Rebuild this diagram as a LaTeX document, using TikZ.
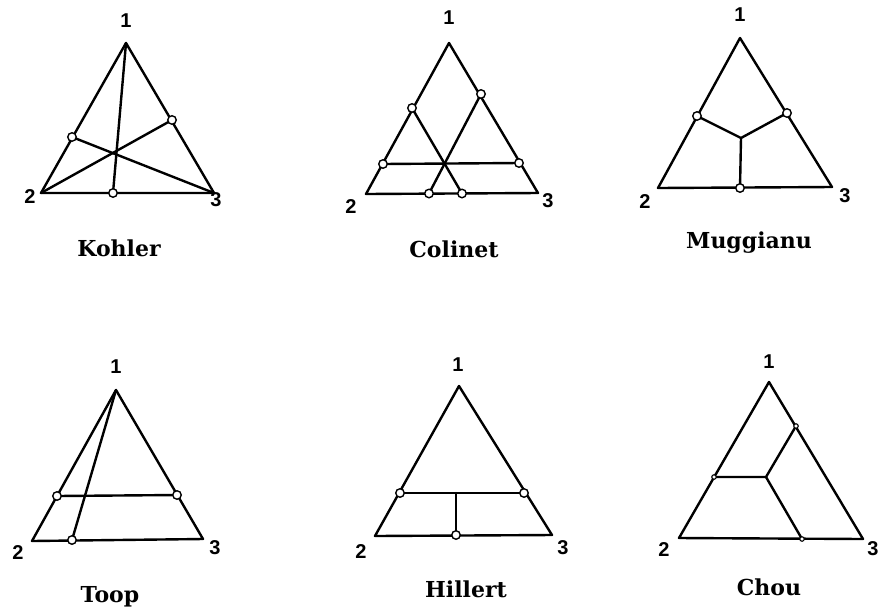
\documentclass[tikz,border=0pt]{standalone}
\usepackage{fontspec}
\setmainfont{DejaVu Serif}
\newfontfamily\digfont{Liberation Sans}
\begin{document}
\begin{tikzpicture}[x=1pt,y=-1pt,
  edge/.style={line width=2.4pt, line join=round, line cap=round},
  pt/.style={circle, draw, fill=white, line width=1.4pt, inner sep=0pt, minimum size=8.5pt},
  smallpt/.style={circle, draw, fill=white, line width=1.1pt, inner sep=0pt, minimum size=4.5pt},
  dignum/.style={font=\digfont\bfseries\fontsize{20}{20}\selectfont, inner sep=0pt},
  capname/.style={font=\bfseries\fontsize{22}{22}\selectfont, anchor=base, inner sep=0pt}]
\useasboundingbox (0,0) rectangle (883,614);

% ---------------- Kohler ----------------
\coordinate (K1) at (126,43); \coordinate (K2) at (41,193); \coordinate (K3) at (214,193);
\coordinate (Ka) at (72,137); \coordinate (Kb) at (172,120); \coordinate (Kc) at (113,193);
\draw[edge] (K1) -- (K2) -- (K3) -- cycle;
\draw[edge] (K1) -- (Kc); \draw[edge] (K2) -- (Kb); \draw[edge] (K3) -- (Ka);
\node[pt] (kpa) at (Ka) {}; \node[pt] (kpb) at (Kb) {}; \node[pt] (kpc) at (Kc) {};
\node[dignum] (kn1) at (126,21) {1};
\node[dignum] (kn2) at (30,197) {2};
\node[dignum] (kn3) at (216,200) {3};
\node[capname] (kname) at (119,256) {Kohler};

% ---------------- Colinet ----------------
\coordinate (C1) at (449,43); \coordinate (C2) at (366,194); \coordinate (C3) at (538,193);
\coordinate (Ca) at (412,108); \coordinate (Cb) at (481,94);
\coordinate (Cc) at (383,164); \coordinate (Cd) at (519,163);
\coordinate (Ce) at (429,193.5); \coordinate (Cf) at (462,193.5);
\draw[edge] (C1) -- (C2) -- (C3) -- cycle;
\draw[edge] (Cc) -- (Cd); \draw[edge] (Ca) -- (Cf); \draw[edge] (Cb) -- (Ce);
\node[pt] (cpa) at (Ca) {}; \node[pt] (cpb) at (Cb) {}; \node[pt] (cpc) at (Cc) {};
\node[pt] (cpd) at (Cd) {}; \node[pt] (cpe) at (Ce) {}; \node[pt] (cpf) at (Cf) {};
\node[dignum] (cn1) at (449,18) {1};
\node[dignum] (cn2) at (351,207) {2};
\node[dignum] (cn3) at (548,201) {3};
\node[capname] (cname) at (454,257) {Colinet};

% ---------------- Muggianu ----------------
\coordinate (M1) at (740,38); \coordinate (M2) at (658,188); \coordinate (M3) at (832,187);
\coordinate (Ma) at (697,116); \coordinate (Mb) at (787,113); \coordinate (Mc) at (740,188);
\coordinate (Mo) at (741,138);
\draw[edge] (M1) -- (M2) -- (M3) -- cycle;
\draw[edge] (Ma) -- (Mo) -- (Mb); \draw[edge] (Mo) -- (Mc);
\node[pt] (mpa) at (Ma) {}; \node[pt] (mpb) at (Mb) {}; \node[pt] (mpc) at (Mc) {};
\node[dignum] (mn1) at (740,15) {1};
\node[dignum] (mn2) at (645,202) {2};
\node[dignum] (mn3) at (845,196) {3};
\node[capname] (mname) at (749,248) {Muggianu};

% ---------------- Toop ----------------
\coordinate (T1) at (116,390); \coordinate (T2) at (32,541); \coordinate (T3) at (203,539);
\coordinate (Ta) at (57,496); \coordinate (Tb) at (177,495); \coordinate (Tc) at (72,540);
\draw[edge] (T1) -- (T2) -- (T3) -- cycle;
\draw[edge] (Ta) -- (Tb); \draw[edge] (T1) -- (Tc);
\node[pt] (tpa) at (Ta) {}; \node[pt] (tpb) at (Tb) {}; \node[pt] (tpc) at (Tc) {};
\node[dignum] (tn1) at (116,367) {1};
\node[dignum] (tn2) at (18,553) {2};
\node[dignum] (tn3) at (215,548) {3};
\node[capname] (tname) at (110,602) {Toop};

% ---------------- Hillert ----------------
\coordinate (H1) at (459,386); \coordinate (H2) at (375,536); \coordinate (H3) at (552,535);
\coordinate (Ha) at (400,493); \coordinate (Hb) at (524,493); \coordinate (Hc) at (456,535);
\coordinate (Hd) at (456,493);
\draw[edge] (H1) -- (H2) -- (H3) -- cycle;
\draw[edge] (Ha) -- (Hb); \draw[edge] (Hd) -- (Hc);
\node[pt] (hpa) at (Ha) {}; \node[pt] (hpb) at (Hb) {}; \node[pt] (hpc) at (Hc) {};
\node[dignum] (hn1) at (458,365) {1};
\node[dignum] (hn2) at (361,552) {2};
\node[dignum] (hn3) at (563,548) {3};
\node[capname] (hname) at (466,597) {Hillert};

% ---------------- Chou ----------------
\coordinate (O1) at (769,382); \coordinate (O2) at (679,538); \coordinate (O3) at (863,539);
\coordinate (Oa) at (714,477); \coordinate (Ob) at (796,426); \coordinate (Oc) at (802,539);
\coordinate (Oo) at (766,477);
\draw[edge] (O1) -- (O2) -- (O3) -- cycle;
\draw[edge] (Oa) -- (Oo) -- (Ob); \draw[edge] (Oo) -- (Oc);
\node[smallpt] (opa) at (Oa) {}; \node[smallpt] (opb) at (Ob) {}; \node[smallpt] (opc) at (Oc) {};
\node[dignum] (on1) at (769,362) {1};
\node[dignum] (on2) at (664,550) {2};
\node[dignum] (on3) at (873,549) {3};
\node[capname] (oname) at (769,595) {Chou};
\end{tikzpicture}
\end{document}
